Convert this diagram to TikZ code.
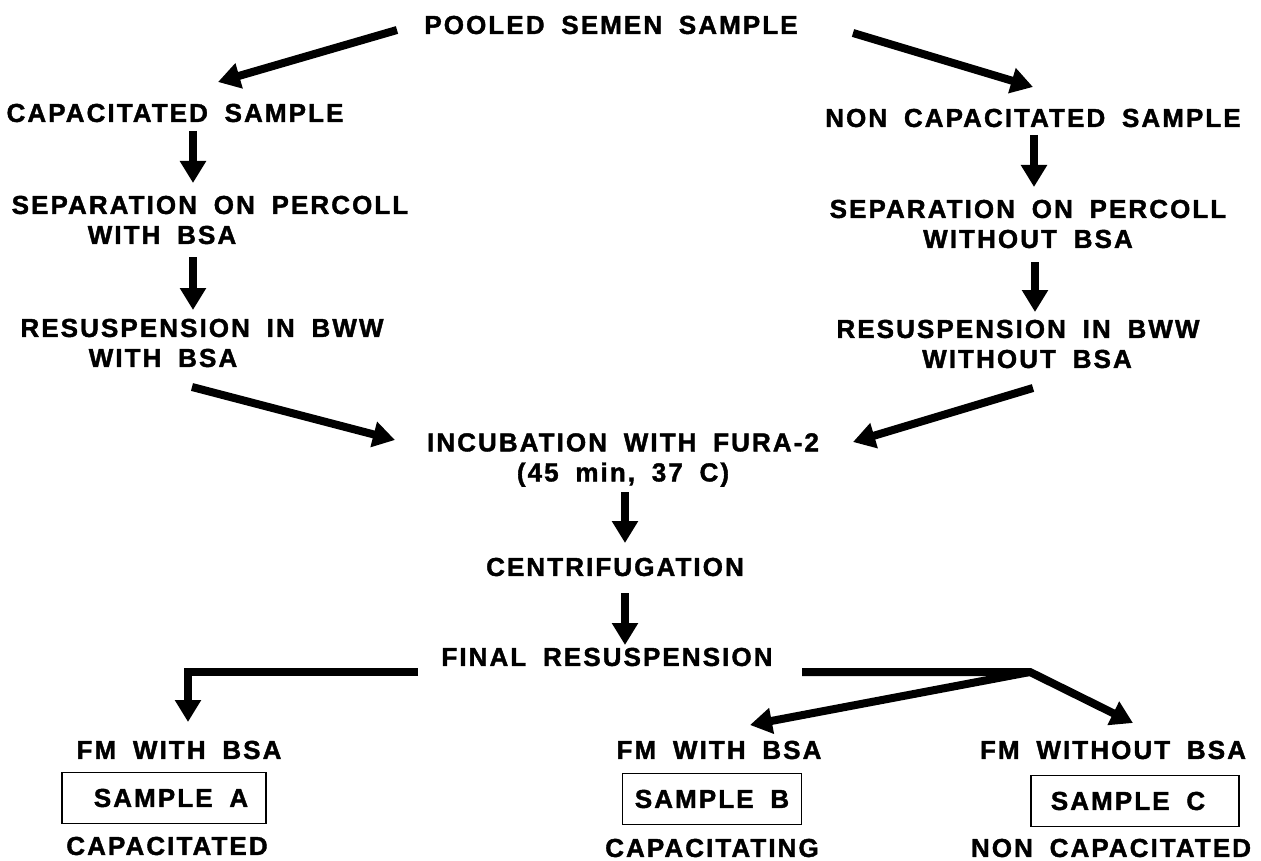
\documentclass[tikz,border=0pt]{standalone}
\usepackage{fontspec}
\setmainfont[LetterSpace=8,WordSpace=1.8,BoldFeatures={FakeBold=1.5}]{Liberation Sans}
\usetikzlibrary{shapes,arrows.meta,calc}
\tikzstyle{txt} = [inner sep=0pt, align=center,
    font=\bfseries\fontsize{26}{30}\selectfont]
\tikzstyle{box} = [txt, draw, line width=1.4pt, minimum height=51pt]
\tikzstyle{flow} = [line width=8pt, ->]
\tikzstyle{input} = [coordinate]

\begin{document}
\begin{tikzpicture}[x=1pt, y=-1pt, >={Triangle[width=25pt,length=22pt]}]
    \useasboundingbox (0,0) rectangle (1261,861);
    % the two sample branches
    \node [txt] (pooled) at (611,25) {POOLED SEMEN SAMPLE};
    \node [txt] (cap) at (175,113) {CAPACITATED SAMPLE};
    \node [txt] (sepcap) at (210,220) {SEPARATION ON PERCOLL\\\mbox{WITH BSA\kern96pt}};
    \node [txt] (rescap) at (202,343) {RESUSPENSION IN BWW\\\mbox{WITH BSA\kern78pt}};
    \node [txt] (noncap) at (1033,118) {NON CAPACITATED SAMPLE};
    \node [txt] (sepnon) at (1028,224) {SEPARATION ON PERCOLL\\WITHOUT BSA};
    \node [txt] (resnon) at (1018,344) {RESUSPENSION IN BWW\\\mbox{WITHOUT BSA\kern-18pt}};
    % common steps
    \node [txt] (incub) at (623,460) {INCUBATION WITH FURA-2\\(45 min, 37 C)};
    \node [txt] (centrif) at (615,567) {CENTRIFUGATION};
    \node [txt] (final) at (607,657) {FINAL RESUSPENSION};
    % the three final samples
    \node [txt] (fma) at (179,750) {FM WITH BSA};
    \node [box, minimum width=204pt] (sama) at (164,798) {\kern14pt SAMPLE A};
    \node [txt] (capa) at (167,846) {CAPACITATED};
    \node [txt] (fmb) at (719,750) {FM WITH BSA};
    \node [box, minimum width=179pt] (samb) at (712,799) {SAMPLE B};
    \node [txt] (capb) at (712,848) {CAPACITATING};
    \node [txt] (fmc) at (1113,750) {FM WITHOUT BSA};
    \node [box, minimum width=208pt] (samc) at (1135,801) {SAMPLE C\kern14pt};
    \node [txt] (capc) at (1111,848) {NON CAPACITATED};
    \node [input] (fork) at ($(final)+(423,15)$) {};

    % arrows between the steps
    \draw [flow] ($(pooled)+(-214,5)$) -- ($(cap)+(43,-31)$);
    \draw [flow] ($(pooled)+(242,8)$) -- ($(noncap)+(0,-31)$);
    \draw [flow] ($(cap)+(18,18)$) -- ($(sepcap)+(-17,-37)$);
    \draw [flow] ($(sepcap)+(-17,37)$) -- ($(rescap)+(-9,-33)$);
    \draw [flow] ($(noncap)+(1,17)$) -- ($(sepnon)+(6,-37)$);
    \draw [flow] ($(sepnon)+(7,38)$) -- ($(resnon)+(17,-32)$);
    \draw [flow] ($(rescap)+(-10,44)$) -- ($(incub)+(-228,-20)$);
    \draw [flow] ($(resnon)+(15,44)$) -- ($(incub)+(230,-18)$);
    \draw [flow] ($(incub)+(2,32)$) -- ($(centrif)+(10,-24)$);
    \draw [flow] ($(centrif)+(10,26)$) -- ($(final)+(18,-12)$);
    \draw [flow] ($(final)+(-189,15)$) -| ($(fma)+(9,-28)$);
    \draw [flow] ($(final)+(195,15)$) -- (fork) -- ($(fmc)+(20,-27)$);
    \draw [flow] (fork) -- ($(fmb)+(31,-25)$);
\end{tikzpicture}
\end{document}
